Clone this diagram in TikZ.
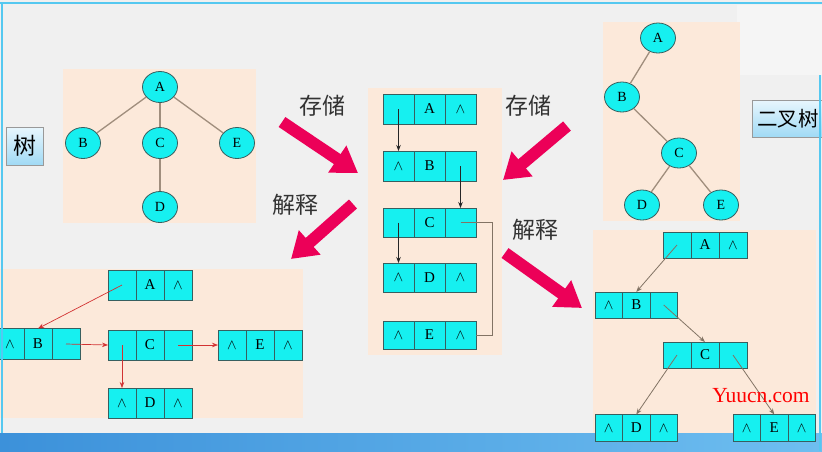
\documentclass[tikz,border=0pt]{standalone}
\usepackage{fontspec}
\setmainfont{Liberation Serif}
\newfontfamily\cjk{Noto Sans CJK SC}
\usetikzlibrary{shapes.geometric,arrows.meta}
\definecolor{bgc}{RGB}{240,240,240}
\definecolor{peach}{RGB}{252,233,218}
\definecolor{cyanf}{RGB}{22,240,240}
\definecolor{celld}{RGB}{55,95,95}
\definecolor{edgec}{RGB}{160,142,125}
\definecolor{pinka}{RGB}{236,0,88}
\definecolor{framec}{RGB}{85,200,240}
\definecolor{redl}{RGB}{210,50,50}
\definecolor{grayl}{RGB}{130,115,100}
\definecolor{lbtop}{RGB}{232,246,253}
\definecolor{lbbot}{RGB}{160,218,245}
\newcommand\rec[8]{%
 \node[cell,minimum width=#4pt,minimum height=#5pt,anchor=west] (#1a) at (#2,#3) {#6};
 \node[cell,minimum width=#4pt,minimum height=#5pt,anchor=west] (#1b) at (#1a.east) {#7};
 \node[cell,minimum width=#4pt,minimum height=#5pt,anchor=west] (#1c) at (#1b.east) {#8};}
\newcommand\nl{$\wedge$}
\begin{document}
\begin{tikzpicture}[x=1pt,y=-1pt,
  panel/.style={fill=peach},
  cell/.style={draw=celld,fill=cyanf,line width=0.9pt,inner sep=0pt,outer sep=0pt,font=\fontsize{15}{15}\selectfont},
  tnode/.style={ellipse,draw=celld,fill=cyanf,line width=0.8pt,minimum width=35pt,minimum height=31pt,inner sep=0pt,font=\fontsize{14}{14}\selectfont},
  tedge/.style={draw=edgec,line width=1.3pt},
  blkarr/.style={draw=black!85,line width=0.8pt,-{Stealth[length=6pt,width=4.5pt]}},
  redarr/.style={draw=redl,line width=0.7pt,-{Stealth[length=6pt,width=4.5pt]}},
  grarr/.style={draw=grayl,line width=0.8pt,-{Stealth[length=6pt,width=4.5pt]}},
  bigarr/.style={draw=pinka,line width=12pt,-{Triangle[length=25pt,width=31pt]}},
  cjklab/.style={font=\cjk\fontsize{23}{23}\selectfont,text=black!80,inner sep=0pt},
  lbox/.style={draw=black!40,line width=0.8pt,top color=lbtop,bottom color=lbbot,inner sep=0pt,font=\cjk\fontsize{23}{23}\selectfont}
]
\useasboundingbox (0,0) rectangle (822,451);
\fill[bgc] (0,0) rectangle (822,451);
\fill[black!4] (737,5) rectangle (822,75);

% panels
\fill[panel] (63,69) rectangle (256,223);
\fill[panel] (368,88) rectangle (502,355);
\fill[panel] (603,22) rectangle (740,221);
\fill[panel] (0,269) rectangle (303,418);
\fill[panel] (593,230) rectangle (816,445);

% bottom bar
\shade[left color={rgb,255:red,60;green,145;blue,218},right color={rgb,255:red,110;green,190;blue,240}] (0,433) rectangle (822,451);

% tree
\node[tnode] (tA) at (160,87) {A};
\node[tnode] (tB) at (83,143) {B};
\node[tnode] (tC) at (160,143) {C};
\node[tnode] (tE) at (237,143) {E};
\node[tnode] (tD) at (160,207) {D};
\draw[tedge] (tA) -- (tB);
\draw[tedge] (tA) -- (tC);
\draw[tedge] (tA) -- (tE);
\draw[tedge] (tC) -- (tD);

\node[lbox,minimum width=37pt,minimum height=38pt] (lshu) at (25,146) {树};

% binary tree
\node[tnode,minimum height=30pt] (bA) at (658,38) {A};
\node[tnode,minimum height=30pt] (bB) at (622,97) {B};
\node[tnode,minimum height=30pt] (bC) at (679,153) {C};
\node[tnode,minimum height=30pt] (bD) at (642,205) {D};
\node[tnode,minimum height=30pt] (bE) at (721,205) {E};
\draw[tedge] (bA) -- (bB);
\draw[tedge] (bB) -- (bC);
\draw[tedge] (bC) -- (bD);
\draw[tedge] (bC) -- (bE);

\node[lbox,minimum width=78pt,minimum height=37pt,anchor=west,text width=74pt,align=left,font=\cjk\fontsize{20.5}{20.5}\selectfont] (lbin) at (752,118.5) {\hspace{3pt}二叉树};

% middle storage
\rec{m1}{383}{109}{31}{30}{}{A}{\nl}
\rec{m2}{383}{166}{31}{30}{\nl}{B}{}
\rec{m3}{383}{222.5}{31}{29}{}{C}{}
\rec{m4}{383}{277.5}{31}{29}{\nl}{D}{\nl}
\rec{m5}{383}{335}{31}{28}{\nl}{E}{\nl}
\draw[blkarr] (m1a.center) -- (m2a.north);
\draw[blkarr] (m2c.center) -- (m3c.north);
\draw[blkarr] (m3a.center) -- (m4a.north);
\draw[draw=grayl,line width=0.8pt] (m3c.center) -- ++(32,0) |- (m5c.east);

% bottom-left interpretation
\rec{p1}{108}{285}{28}{30}{}{A}{\nl}
\rec{p2}{-4}{344}{28}{31}{\nl}{B}{}
\rec{p3}{108}{345}{28}{30}{}{C}{}
\rec{p4}{218}{345}{28}{30}{\nl}{E}{\nl}
\rec{p5}{108}{403}{28}{30}{\nl}{D}{\nl}
\draw[redarr] (p1a.center) -- (p2b.north);
\draw[redarr] (p2c.center) -- (p3a.west);
\draw[redarr] (p3c.center) -- (p4a.west);
\draw[redarr] (p3a.center) -- (p5a.north);

% bottom-right interpretation
\rec{q1}{663}{245}{28}{26}{}{A}{\nl}
\rec{q2}{595}{305}{27.5}{26}{\nl}{B}{}
\rec{q3}{663}{355}{28}{26}{}{C}{}
\rec{q4}{595}{428}{27.5}{27}{\nl}{D}{\nl}
\rec{q5}{733}{428}{27.5}{27}{\nl}{E}{\nl}
\draw[grarr] (q1a.center) -- (q2b.north);
\draw[grarr] (q2c.center) -- (q3b.north);
\draw[grarr] (q3a.center) -- (q4b.north);
\draw[grarr] (q3c.center) -- (q5b.north);

% big arrows and labels
\coordinate (a1s) at (282,122); \coordinate (a1e) at (358,173);
\coordinate (a2s) at (353,204); \coordinate (a2e) at (291,259);
\coordinate (a3s) at (567,126); \coordinate (a3e) at (503,180);
\coordinate (a4s) at (505,253); \coordinate (a4e) at (582,308);
\draw[bigarr] (a1s) -- (a1e);
\draw[bigarr] (a2s) -- (a2e);
\draw[bigarr] (a3s) -- (a3e);
\draw[bigarr] (a4s) -- (a4e);
\node[cjklab] (l1) at (322,106) {存储};
\node[cjklab] (l2) at (295,205) {解释};
\node[cjklab] (l3) at (528,106) {存储};
\node[cjklab] (l4) at (535,230) {解释};

\node[text=red,inner sep=0pt,font=\fontsize{21.5}{21.5}\selectfont] (wm) at (761,396) {Yuucn.com};

% frame
\draw[framec,line width=2.5pt] (0,3) -- (822,3);
\draw[framec,line width=2pt] (2,3) -- (2,433);
\draw[framec,line width=2pt] (820,75) -- (820,451);
\end{tikzpicture}
\end{document}
